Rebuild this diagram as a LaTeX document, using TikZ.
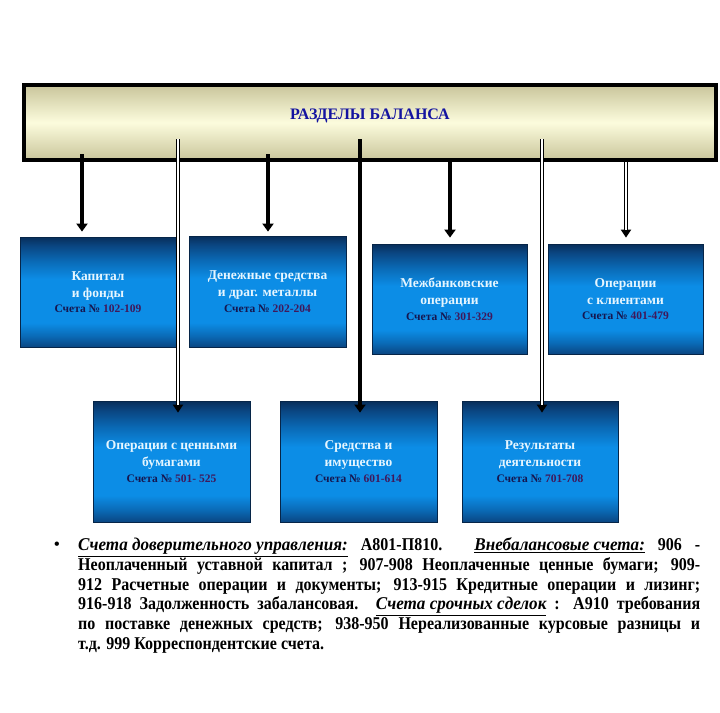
\documentclass[tikz,border=0pt]{standalone}
\usepackage{fontspec}
\setmainfont{Liberation Serif}
\newfontfamily\bodyfont{Liberation Serif}[FakeStretch=0.89]
\newfontfamily\itfont{Liberation Serif}[FakeStretch=0.95]
\usetikzlibrary{arrows.meta}
\definecolor{bdark}{HTML}{082E5A}
\definecolor{bbright}{HTML}{0C8DE6}
\definecolor{bmid}{HTML}{0A6AB6}
\definecolor{bdarkb}{HTML}{0A4682}
\definecolor{boxtxt}{HTML}{E6F6FF}
\definecolor{acct}{HTML}{16164F}
\definecolor{nums}{HTML}{40185A}
\definecolor{titleblue}{HTML}{1414A0}
\definecolor{khaki}{HTML}{C9C59B}
\definecolor{paley}{HTML}{FCFCDD}
\pgfdeclareverticalshading{bluesh}{100bp}{color(0bp)=(bdarkb); color(25bp)=(bdarkb); color(30bp)=(bmid); color(36bp)=(bbright); color(56bp)=(bbright); color(64bp)=(bmid); color(71bp)=(bdarkb); color(75bp)=(bdark); color(100bp)=(bdark)}
\newcommand{\acc}[1]{\\[-1.5pt]{\fontsize{11.5}{13}\selectfont\color{acct}Счета № \color{nums}#1}}
\newcommand{\ulit}[1]{\underline{{\itfont\bfseries\itshape #1}}}
\begin{document}
\begin{tikzpicture}[x=1pt,y=-1pt,
  topbox/.style={draw=black, line width=3.5pt, top color=khaki, bottom color=khaki, middle color=paley,
    minimum width=692pt, minimum height=75pt, inner sep=0pt},
  title/.style={font=\bfseries\fontsize{16}{18}\selectfont, text=titleblue},
  bluebox/.style={draw=bdark!80!black, line width=0.8pt, shading=bluesh,
    minimum width=156pt, inner sep=0pt, align=center, text=boxtxt,
    font=\bfseries\fontsize{13.5}{17}\selectfont},
  thick arrow/.style={line width=4pt, -{Triangle[length=8pt,width=11pt]}},
  dbl outer/.style={line width=3.6pt, -{Triangle[length=8pt,width=10pt]}},
  dbl inner/.style={draw=white, line width=1.3pt},
  bodytext/.style={font=\bodyfont\bfseries\fontsize{18}{19.8}\selectfont, text width=622pt, align=justify, inner sep=0pt}
]
\useasboundingbox (0,0) rectangle (720,712);
\fill[white] (0,0) rectangle (720,712);

\node[topbox, label={[title, yshift=7pt]center:РАЗДЕЛЫ БАЛАНСА}] (top) at (370,122.5) {};

\node[bluebox, minimum height=110pt] (b1) at (98,292) {Капитал\\ и фонды\acc{102-109}};
\node[bluebox, minimum height=111pt, minimum width=157pt] (b2) at (267.5,291.5) {Денежные средства\\ и драг. металлы\acc{202-204}};
\node[bluebox, minimum height=110pt, minimum width=155pt] (b3) at (449.5,299) {Межбанковские\\ операции\acc{301-329}};
\node[bluebox, minimum height=110pt, minimum width=155pt] (b4) at (625.5,299) {Операции\\ с клиентами\acc{401-479}};
\node[bluebox, minimum height=121pt, minimum width=157pt] (b5) at (171.5,461.5) {Операции с ценными\\ бумагами\acc{501- 525}};
\node[bluebox, minimum height=121pt, minimum width=157pt] (b6) at (358.5,461.5) {Средства и\\ имущество\acc{601-614}};
\node[bluebox, minimum height=121pt, minimum width=156pt] (b7) at (540,461.5) {Результаты\\ деятельности\acc{701-708}};

\coordinate (a1) at (82,154);
\coordinate (a2) at (268,154);
\coordinate (a3) at (450,162);
\coordinate (a4) at (626,162);
\coordinate (d1) at (178,139);
\coordinate (d2) at (360,139);
\coordinate (d3) at (542,139);

\draw[thick arrow, shorten >=5pt] (a1) -- (a1 |- b1.north);
\draw[thick arrow, shorten >=4pt] (a2) -- (a2 |- b2.north);
\draw[thick arrow, shorten >=6pt] (a3) -- (a3 |- b3.north);
\draw[thick arrow, shorten >=-12pt] (d2) -- (d2 |- b6.north);

\draw[dbl outer, shorten >=6pt] (a4) -- (a4 |- b4.north);
\draw[dbl inner, shorten >=14pt] (a4) -- (a4 |- b4.north);
\draw[dbl outer, shorten >=-12pt] (d1) -- (d1 |- b5.north);
\draw[dbl inner, shorten >=-4pt] (d1) -- (d1 |- b5.north);
\draw[dbl outer, shorten >=-12pt] (d3) -- (d3 |- b7.north);
\draw[dbl inner, shorten >=-4pt] (d3) -- (d3 |- b7.north);

\node[font=\bfseries\fontsize{16}{16}\selectfont] (bullet) at (57,546) {•};
\node[bodytext, anchor=north west] (body) at (78,537.5) {\ulit{Счета доверительного управления:} А801-П810. \ulit{Внебалансовые счета:} 906 -\linebreak Неоплаченный уставной капитал ; 907-908 Неоплаченные ценные бумаги; 909-\linebreak 912 Расчетные операции и документы; 913-915 Кредитные операции и лизинг;\linebreak 916-918 Задолженность забалансовая. \ulit{Счета срочных сделок} : А910 требования\linebreak по поставке денежных средств; 938-950 Нереализованные курсовые разницы и\linebreak т.д. 999 Корреспондентские счета.};
\end{tikzpicture}
\end{document}
